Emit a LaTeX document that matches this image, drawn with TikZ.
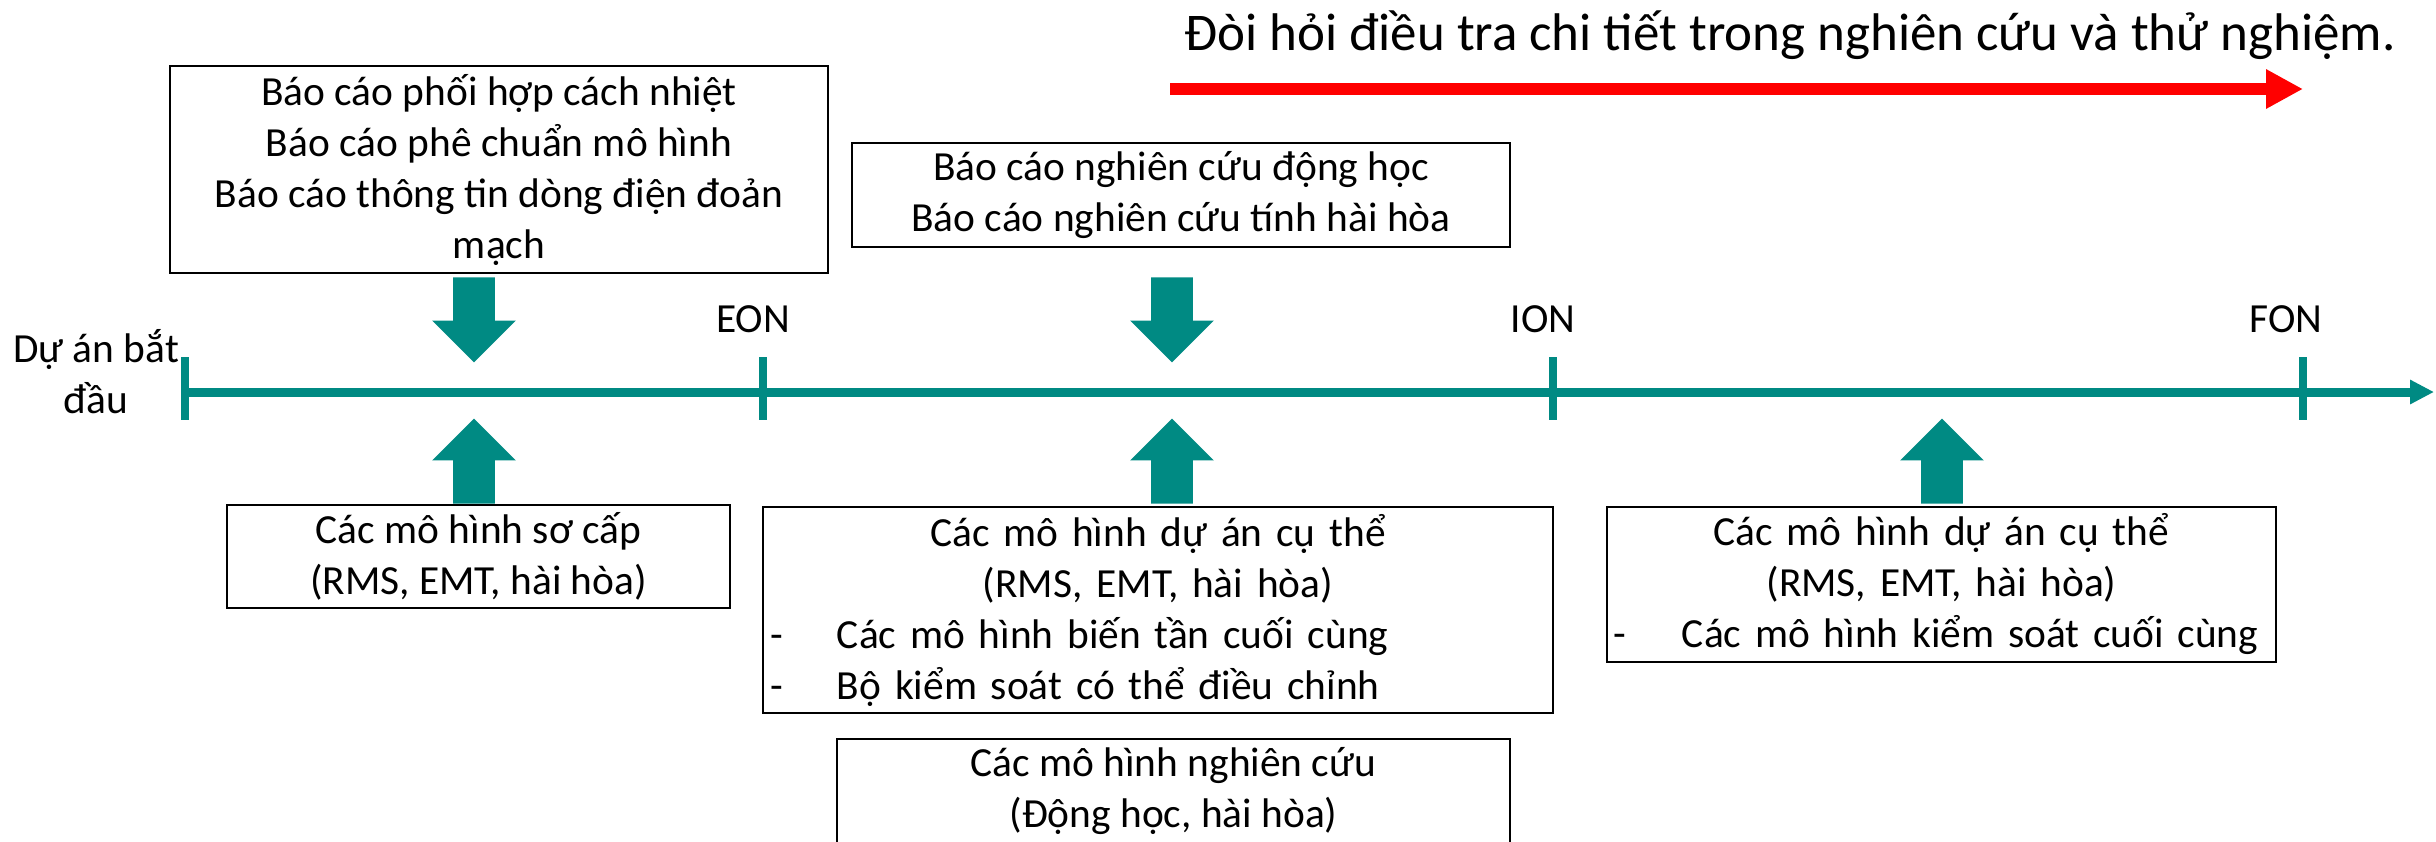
\documentclass[tikz,border=0pt]{standalone}
\usepackage{fontspec}
\setmainfont{Carlito}
\usetikzlibrary{shapes.arrows,arrows.meta}
\definecolor{lineteal}{RGB}{0,138,131}

\begin{document}
\begin{tikzpicture}[x=0.5pt, y=-0.5pt,
	  report/.style={draw, line width=0.9pt, inner sep=0pt, font=\fontsize{20.7}{25.5}\selectfont},
	  milestone/.style={inner sep=0pt, font=\fontsize{20.7}{25.5}\selectfont},
	  bigarrow/.style={single arrow, fill=lineteal, draw=none, inner xsep=0pt, inner ysep=10.25pt,
	    minimum height=42.5pt, single arrow head extend=10.5pt, single arrow tip angle=90, anchor=tip}]
	  \clip (0,0) rectangle (2436,841);

	  % timeline
	  \coordinate (start) at (185,392);
	  \coordinate (eon) at (763,392);
	  \coordinate (ion) at (1553,392);
	  \coordinate (fon) at (2303,392);
	  \coordinate (end) at (2434,392);
	  \draw[lineteal, line width=4.5pt, -{Triangle[length=12pt, width=11.5pt]}] (start) -- (end);
	  \foreach \t in {start, eon, ion, fon}
	    \draw[lineteal, line width=4pt] ([yshift=17.5pt]\t) -- ([yshift=-14pt]\t);

	  \node[milestone, align=center, anchor=base] (begin) at (96,413) {Dự án bắt\\đầu};
	  \node[milestone, anchor=base] (eonlab) at (753,332) {EON};
	  \node[milestone, anchor=base] (ionlab) at (1543,332) {ION};
	  \node[milestone, anchor=base] (fonlab) at (2286,332) {FON};

	  % reports above
	  \node[report, align=center, minimum width=329pt, minimum height=103.5pt] (rep1) at (499,169.5)
	    {Báo cáo phối hợp cách nhiệt\\Báo cáo phê chuẩn mô hình\\Báo cáo thông tin dòng điện đoản\\mạch};
	  \node[report, align=center, minimum width=329pt, minimum height=52pt] (rep2) at (1181,195)
	    {Báo cáo nghiên cứu động học\\Báo cáo nghiên cứu tính hài hòa};

	  % models below
	  \node[report, align=center, minimum width=251.5pt, minimum height=51.5pt] (mod1) at (478.5,556.5)
	    {Các mô hình sơ cấp\\(RMS, EMT, hài hòa)};
	  \node[report, text width=395pt, minimum height=103pt] (mod2) at (1158,610)
	    {\centering Các mô hình dự án cụ thể\\(RMS, EMT, hài hòa)\par
	     \raggedright\hspace*{3.5pt}\makebox[33.5pt][l]{-}Các mô hình biến tần cuối cùng\\
	     \hspace*{3.5pt}\makebox[33.5pt][l]{-}Bộ kiểm soát có thể điều chỉnh\par};
	  \node[report, align=center, minimum width=336.5pt, minimum height=52pt] (mod3) at (1173.5,791)
	    {Các mô hình nghiên cứu\\(Động học, hài hòa)};
	  \node[report, text width=334.5pt, minimum height=77.5pt] (mod4) at (1941.5,584.5)
	    {\centering Các mô hình dự án cụ thể\\(RMS, EMT, hài hòa)\par
	     \raggedright\hspace*{3pt}\makebox[34.5pt][l]{-}Các mô hình kiểm soát cuối cùng\par};

	  % block arrows
	  \node[bigarrow, rotate=-90] (down1) at (474,363) {};
	  \node[bigarrow, rotate=-90] (down2) at (1172,363) {};
	  \node[bigarrow, rotate=90] (up1) at (474,418) {};
	  \node[bigarrow, rotate=90] (up2) at (1172,418) {};
	  \node[bigarrow, rotate=90] (up3) at (1942,418) {};

	  % detail arrow
	  \node[anchor=base, inner sep=0pt, font=\fontsize{26.5}{30}\selectfont] (detail) at (1790,50)
	    {Đòi hỏi điều tra chi tiết trong nghiên cứu và thử nghiệm.};
	  \coordinate (redstart) at (1170,89);
	  \coordinate (redend) at (2303,89);
	  \draw[red, line width=6pt, -{Triangle[length=18.5pt, width=18.5pt]}] (redstart) -- (redend);
	\end{tikzpicture}
\end{document}
